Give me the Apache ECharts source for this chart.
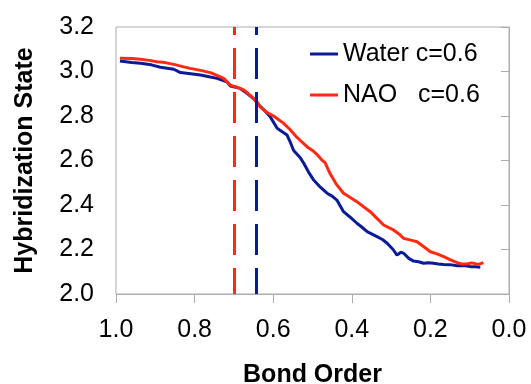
<!DOCTYPE html>
<html>
<head>
<meta charset="utf-8">
<script src="https://cdn.jsdelivr.net/npm/echarts@6/dist/echarts.min.js"></script>
<style>
    html, body { margin: 0; padding: 0; background: #fff; }
    #chart { width: 531px; height: 384px; }
</style>
</head>
<body>
<div id="chart"></div>
<script>
    // Water c=0.6
    const waterBond = [0.99, 0.96, 0.938, 0.91, 0.887, 0.87, 0.853, 0.836, 0.81, 0.785, 0.76, 0.743, 0.718, 0.709, 0.684, 0.665, 0.646, 0.641, 0.625, 0.607, 0.59, 0.565, 0.556, 0.548, 0.531, 0.523, 0.51, 0.497, 0.48, 0.463, 0.45, 0.438, 0.421, 0.404, 0.387, 0.374, 0.361, 0.336, 0.322, 0.31, 0.295, 0.285, 0.275, 0.268, 0.255, 0.243, 0.23, 0.217, 0.205, 0.192, 0.18, 0.166, 0.15, 0.132, 0.115, 0.098, 0.085, 0.073]
    const waterHyb = [3.047, 3.04, 3.037, 3.03, 3.019, 3.015, 3.01, 2.995, 2.99, 2.984, 2.975, 2.969, 2.954, 2.935, 2.924, 2.9, 2.872, 2.857, 2.83, 2.795, 2.745, 2.715, 2.68, 2.645, 2.612, 2.59, 2.548, 2.512, 2.48, 2.453, 2.44, 2.422, 2.37, 2.345, 2.318, 2.3, 2.28, 2.258, 2.245, 2.228, 2.2, 2.175, 2.188, 2.183, 2.16, 2.148, 2.145, 2.138, 2.14, 2.138, 2.135, 2.133, 2.132, 2.127, 2.128, 2.123, 2.122, 2.12]

    // NAO c=0.6
    const naoBond = [0.99, 0.96, 0.938, 0.915, 0.896, 0.875, 0.853, 0.83, 0.811, 0.785, 0.76, 0.74, 0.726, 0.709, 0.69, 0.675, 0.66, 0.641, 0.633, 0.615, 0.599, 0.585, 0.574, 0.556, 0.54, 0.531, 0.514, 0.5, 0.489, 0.476, 0.468, 0.455, 0.44, 0.421, 0.405, 0.387, 0.37, 0.353, 0.336, 0.319, 0.306, 0.294, 0.28, 0.268, 0.25, 0.234, 0.215, 0.2, 0.183, 0.166, 0.15, 0.132, 0.12, 0.107, 0.095, 0.09, 0.078, 0.065]
    const naoHyb = [3.059, 3.058, 3.055, 3.05, 3.044, 3.04, 3.032, 3.022, 3.014, 3.005, 2.995, 2.98, 2.969, 2.939, 2.928, 2.917, 2.895, 2.864, 2.84, 2.815, 2.8, 2.782, 2.768, 2.737, 2.705, 2.69, 2.662, 2.645, 2.628, 2.602, 2.59, 2.54, 2.495, 2.453, 2.435, 2.415, 2.392, 2.37, 2.34, 2.31, 2.298, 2.288, 2.27, 2.25, 2.242, 2.235, 2.21, 2.19, 2.18, 2.168, 2.155, 2.141, 2.135, 2.135, 2.14, 2.138, 2.133, 2.141]

    // dashed markers (bond order)
    const waterMark = 0.644
    const naoMark = 0.70

    const seriesNames = ['Water c=0.6', 'NAO   c=0.6']
    const blue = '#0b1a96'
    const red = '#ff2a12'
    const font = '"Liberation Sans", Arial, Helvetica, sans-serif'
    const axisGray = '#adadad'

    function pairs (xs, ys) {
        return xs.map((x, i) => [x, ys[i]])
    }

    function vline (x) {
        return [{ coord: [x, 3.2] }, { coord: [x, 2.0] }]
    }

    const chart = echarts.init(document.getElementById('chart'))
    chart.setOption({
        animation: false,
        textStyle: { fontFamily: font },
        grid: {
            left: 116,
            top: 27,
            right: 22,
            bottom: 90,
            outerBoundsMode: 'none',
            containLabel: false,
            show: true,
            borderColor: axisGray,
            borderWidth: 1
        },
        legend: {
            left: 305,
            top: 36,
            orient: 'vertical',
            icon: 'rect',
            itemWidth: 28,
            itemHeight: 3,
            itemGap: 15,
            data: seriesNames,
            textStyle: { fontSize: 25, lineHeight: 26, color: '#000', fontFamily: font }
        },
        xAxis: {
            type: 'value',
            min: 0,
            max: 1,
            interval: 0.2,
            inverse: true,
            name: 'Bond Order',
            nameLocation: 'middle',
            nameGap: 69,
            nameTextStyle: { fontSize: 25, fontWeight: 'bold', color: '#000', fontFamily: font },
            axisLine: { lineStyle: { color: axisGray, width: 1 } },
            axisTick: { length: 9, lineStyle: { color: axisGray } },
            splitLine: { show: false },
            axisLabel: {
                fontSize: 25,
                color: '#000',
                margin: 24,
                formatter: v => v.toFixed(1)
            }
        },
        yAxis: {
            type: 'value',
            min: 2.0,
            max: 3.2,
            interval: 0.2,
            name: 'Hybridization State',
            nameLocation: 'middle',
            nameGap: 78,
            nameTextStyle: { fontSize: 25, fontWeight: 'bold', color: '#000', fontFamily: font },
            axisLine: { show: true, lineStyle: { color: axisGray, width: 1 } },
            axisTick: { show: true, length: 8, lineStyle: { color: axisGray } },
            splitLine: { show: false },
            axisLabel: {
                fontSize: 25,
                color: '#000',
                margin: 22,
                formatter: v => v.toFixed(1)
            }
        },
        series: [
            {
                name: seriesNames[0],
                type: 'line',
                symbol: 'none',
                color: blue,
                lineStyle: { color: blue, width: 3 },
                data: pairs(waterBond, waterHyb),
                markLine: {
                    silent: true,
                    symbol: 'none',
                    label: { show: false },
                    lineStyle: { color: blue, width: 3, type: [31, 13], dashOffset: 23 },
                    data: [vline(waterMark)]
                }
            },
            {
                name: seriesNames[1],
                type: 'line',
                symbol: 'none',
                color: red,
                lineStyle: { color: red, width: 3 },
                data: pairs(naoBond, naoHyb),
                markLine: {
                    silent: true,
                    symbol: 'none',
                    label: { show: false },
                    lineStyle: { color: red, width: 3, type: [31, 13], dashOffset: 23 },
                    data: [vline(naoMark)]
                }
            }
        ]
    })
</script>
</body>
</html>
